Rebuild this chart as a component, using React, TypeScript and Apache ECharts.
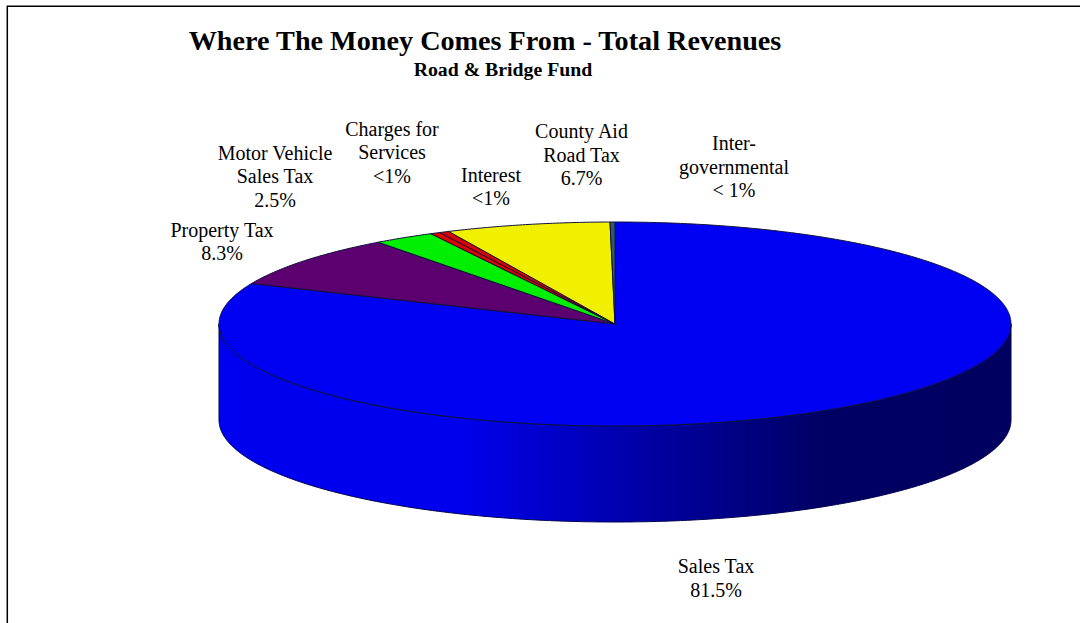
import React, { useEffect, useRef } from "react";
import * as echarts from "echarts";

const titleText = "Where The Money Comes From - Total Revenues";
const subtitleText = "Road & Bridge Fund";

// Clockwise from 12 o'clock, in percent of the total.
const categories = ["Sales Tax", "Property Tax", "Motor Vehicle Sales Tax", "Charges for Services", "Interest", "County Aid Road Tax", "Inter-governmental"];
const shares = [81.5, 8.3, 2.5, 0.4, 0.4, 6.7, 0.2];
const sliceColors = ["#0000f2", "#5c0070", "#00ee00", "#e00000", "#d80000", "#f0f000", "#2f5a70"];

const labelTexts = [
  "Sales Tax\n81.5%",
  "Property Tax\n8.3%",
  "Motor Vehicle\nSales Tax\n2.5%",
  "Charges for\nServices\n<1%",
  "Interest\n<1%",
  "County Aid\nRoad Tax\n6.7%",
  "Inter-\ngovernmental\n< 1%",
];
const labelCenters = [
  [716, 578],
  [222, 241.5],
  [275, 176],
  [392, 152],
  [491, 186.5],
  [581.5, 154.5],
  [734, 166.5],
];

const CX = 615;
const CY = 324;
const RX = 396;
const RY = 102;
const DEPTH = 96;
const FULL = shares.reduce((a, b) => a + b, 0);

const rimPoint = (deg: number, dy = 0): number[] => {
  const t = (deg * Math.PI) / 180;
  return [CX + RX * Math.sin(t), CY - RY * Math.cos(t) + dy];
};

const arcPoints = (from: number, to: number, dy = 0): number[][] => {
  const n = Math.max(2, Math.ceil(Math.abs(to - from) * 2));
  const pts: number[][] = [];
  for (let i = 0; i <= n; i++) pts.push(rimPoint(from + ((to - from) * i) / n, dy));
  return pts;
};

const sliceRange = (index: number): number[] => {
  let before = 0;
  for (let i = 0; i < index; i++) before += shares[i];
  return [(before / FULL) * 360, ((before + shares[index]) / FULL) * 360];
};

const wallGradient = () =>
  new echarts.graphic.LinearGradient(
    220, 0, 1012, 0,
    [
      { offset: 0, color: "#0000f0" },
      { offset: 0.3, color: "#0000ee" },
      { offset: 0.54, color: "#0000a4" },
      { offset: 0.76, color: "#000064" },
      { offset: 1, color: "#000060" },
    ],
    true
  );

const renderWall = (params: any) => {
  const [a, b] = sliceRange(params.dataIndex);
  const from = Math.max(a, 90);
  const to = Math.min(b, 270);
  if (to <= from) return { type: "group", children: [] };
  const points = [...arcPoints(from, to, 0), ...arcPoints(to, from, DEPTH)];
  return {
    type: "polygon",
    shape: { points },
    style: { fill: wallGradient(), stroke: "#000050", lineWidth: 1 },
  };
};

const renderTop = (params: any) => {
  const [a, b] = sliceRange(params.dataIndex);
  const points = [[CX, CY], ...arcPoints(a, b)];
  return {
    type: "polygon",
    shape: { points },
    style: {
      fill: sliceColors[params.dataIndex],
      stroke: "#10103c",
      lineWidth: 1,
      lineJoin: "round",
    },
  };
};

export default function App() {
  const ref = useRef<HTMLDivElement>(null);
  useEffect(() => {
    document.body.style.margin = "0";
    const chart = echarts.init(ref.current!, undefined, { renderer: "svg" });
    const seriesData = categories.map((name, i) => ({ name, value: shares[i] }));
    chart.setOption({
      animation: false,
      backgroundColor: "#ffffff",
      title: [
        {
          text: titleText,
          left: 480,
          top: 21,
          textAlign: "center",
          textStyle: { fontFamily: "Liberation Serif", fontSize: 28.2, fontWeight: "bold", color: "#000" },
        },
        {
          text: subtitleText,
          left: 498,
          top: 54,
          textAlign: "center",
          textStyle: { fontFamily: "Liberation Serif", fontSize: 19.8, fontWeight: "bold", color: "#000" },
        },
      ],
      graphic: [
        {
          type: "polyline",
          silent: true,
          shape: { points: [[7.3, 623], [7.3, 6.3], [1080, 6.3]] },
          style: { fill: "none", stroke: "#000", lineWidth: 1.5 },
        },
        ...labelTexts.map((text, i) => ({
          type: "text",
          silent: true,
          x: labelCenters[i][0],
          y: labelCenters[i][1],
          style: {
            text,
            fill: "#000",
            font: "20px 'Liberation Serif'",
            lineHeight: 23.5,
            align: "center",
            verticalAlign: "middle",
          },
        })),
      ],
      series: [
        { type: "custom", coordinateSystem: "none", silent: true, z: 1, data: seriesData, renderItem: renderWall },
        { type: "custom", coordinateSystem: "none", silent: true, z: 2, data: seriesData, renderItem: renderTop },
      ],
    });
    return () => chart.dispose();
  }, []);
  return <div ref={ref} style={{ position: "absolute", left: 0, top: 0, width: 1080, height: 623 }} />;
}
